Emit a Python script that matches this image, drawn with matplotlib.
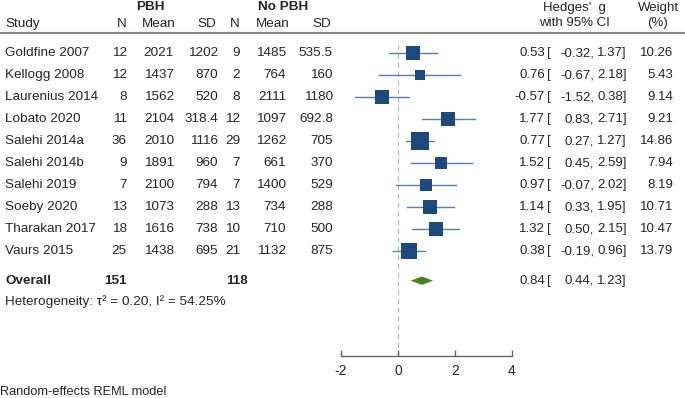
import matplotlib
matplotlib.use("Agg")
import matplotlib.pyplot as plt
import matplotlib.transforms as mtransforms
import numpy as np

plt.rcParams['font.family'] = ['Liberation Sans', 'DejaVu Sans']

studies = ["Goldfine 2007", "Kellogg 2008", "Laurenius 2014", "Lobato 2020",
           "Salehi 2014a", "Salehi 2014b", "Salehi 2019", "Soeby 2020",
           "Tharakan 2017", "Vaurs 2015"]
pbh_n = ["12", "12", "8", "11", "36", "9", "7", "13", "18", "25"]
pbh_mean = ["2021", "1437", "1562", "2104", "2010", "1891", "2100", "1073", "1616", "1438"]
pbh_sd = ["1202", "870", "520", "318.4", "1116", "960", "794", "288", "738", "695"]
nopbh_n = ["9", "2", "8", "12", "29", "7", "7", "13", "10", "21"]
nopbh_mean = ["1485", "764", "2111", "1097", "1262", "661", "1400", "734", "710", "1132"]
nopbh_sd = ["535.5", "160", "1180", "692.8", "705", "370", "529", "288", "500", "875"]
g = [0.53, 0.76, -0.57, 1.77, 0.77, 1.52, 0.97, 1.14, 1.32, 0.38]
lo = [-0.32, -0.67, -1.52, 0.83, 0.27, 0.45, -0.07, 0.33, 0.50, -0.19]
hi = [1.37, 2.18, 0.38, 2.71, 1.27, 2.59, 2.02, 1.95, 2.15, 0.96]
weight = [10.26, 5.43, 9.14, 9.21, 14.86, 7.94, 8.19, 10.71, 10.47, 13.79]
overall = (0.84, 0.44, 1.23)
overall_n = ("151", "118")
xticks = [-2, 0, 2, 4]

W, H = 685, 398
fig = plt.figure(figsize=(W / 100, H / 100), dpi=100)

# forest axes: x from -2..4 maps to px 341..512 ; top px 33, bottom px 356
x0px, x1px = 341, 512
top_px, bot_px = 33, 356
ax = fig.add_axes([x0px / W, (H - bot_px) / H, (x1px - x0px) / W, (bot_px - top_px) / H])
row0_px, row_h = 53, 22
ax.set_xlim(-2, 4)
ax.set_ylim((bot_px - row0_px) / row_h, -(row0_px - top_px) / row_h)

sq_col = "#1d4a7a"
ci_col = "#5a7ea6"
dia_col = "#4e7d23"
tc = "#262626"

ax.axvline(0, ymin=0, ymax=(bot_px - 40) / (bot_px - top_px), color="#b8b8b8",
           lw=0.9, ls=(0, (4, 3)), zorder=0)

for i in range(len(studies)):
    ax.plot([lo[i], hi[i]], [i, i], color=ci_col, lw=1.0, zorder=2)
    ax.plot(g[i], i, marker="s", color=sq_col, markersize=3.2 * np.sqrt(weight[i]),
            markeredgewidth=0, zorder=3)

oy = len(studies) + 0.35
est, olo, ohi = overall
ax.fill([olo, est, ohi, est], [oy, oy - 0.19, oy, oy + 0.19], color=dia_col, lw=0, zorder=3)

for s in ["top", "right", "left"]:
    ax.spines[s].set_visible(False)
ax.spines["bottom"].set_color("#666666")
ax.spines["bottom"].set_linewidth(1.0)
ax.set_yticks([])
ax.set_xticks(xticks)
ax.set_xticklabels([str(t) for t in xticks])
ax.tick_params(axis="x", direction="in", length=4, width=1.0, color="#666666",
               labelsize=10, pad=6, labelcolor=tc)
ax.patch.set_visible(False)

# text columns: x in figure px, y in data rows
trans = mtransforms.blended_transform_factory(fig.transFigure, ax.transData)
fs = 9.7
fs2 = 9.5

def put(xpx, y, s, ha="left", size=fs, **kw):
    ax.text(xpx / W, y, s, transform=trans, ha=ha, va="center", fontsize=size,
            color=tc, clip_on=False, **kw)

for i in range(len(studies)):
    put(5, i, studies[i])
    put(127, i, pbh_n[i], ha="right")
    put(174, i, pbh_mean[i], ha="right")
    put(218, i, pbh_sd[i], ha="right")
    put(240, i, nopbh_n[i], ha="right")
    put(286, i, nopbh_mean[i], ha="right")
    put(333, i, nopbh_sd[i], ha="right")
    put(545, i, f"{g[i]:.2f}", ha="right", size=fs2)
    put(546.5, i, "[", size=fs2)
    put(594, i, f"{lo[i]:.2f},", ha="right", size=fs2)
    put(627, i, f"{hi[i]:.2f}]", ha="right", size=fs2)
    put(673, i, f"{weight[i]:.2f}", ha="right", size=fs2)

oyt = len(studies) + 0.35
put(5, oyt, "Overall", fontweight="bold")
put(127, oyt, overall_n[0], ha="right", fontweight="bold")
put(248, oyt, overall_n[1], ha="right", fontweight="bold")
put(545, oyt, f"{est:.2f}", ha="right", size=fs2)
put(546.5, oyt, "[", size=fs2)
put(594, oyt, f"{olo:.2f},", ha="right", size=fs2)
put(627, oyt, f"{ohi:.2f}]", ha="right", size=fs2)
put(5, oyt + 0.95, "Heterogeneity: \u03c4\u00b2 = 0.20, I\u00b2 = 54.25%")

# header (figure px coordinates)
def hput(xpx, ypx, s, ha="left", size=fs, **kw):
    fig.text(xpx / W, (H - ypx) / H, s, ha=ha, va="center", fontsize=size, color=tc, **kw)

hput(150, 7, "PBH", ha="center", fontweight="bold")
hput(283, 7, "No PBH", ha="center", fontweight="bold")
hput(5, 24, "Study")
hput(127, 24, "N", ha="right")
hput(159, 24, "Mean", ha="center")
hput(207, 24, "SD", ha="center")
hput(240, 24, "N", ha="right")
hput(273, 24, "Mean", ha="center")
hput(322, 24, "SD", ha="center")
hput(574, 8, "Hedges'  g", ha="center", size=fs2)
hput(574, 23, "with 95% CI", ha="center", size=fs2)
hput(658, 8, "Weight", ha="center", size=fs2)
hput(658, 23, "(%)", ha="center", size=fs2)
fig.add_artist(plt.Line2D([0, 1], [(H - 33) / H] * 2, transform=fig.transFigure,
                          color="#8a8a8a", lw=1.5))
hput(0, 392, "Random-effects REML model", size=9.2)

fig.savefig("out.png", dpi=100)
